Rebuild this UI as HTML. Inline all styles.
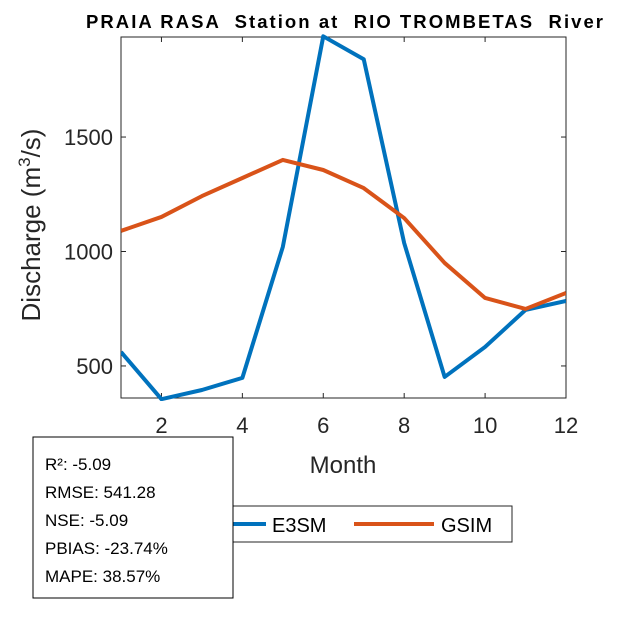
<!DOCTYPE html>
<html><head><meta charset="utf-8"><style>
body{margin:0;background:#fff;font-family:"Liberation Sans",Arial,sans-serif}
</style></head><body>
<svg width="625" height="625" viewBox="0 0 625 625" xmlns="http://www.w3.org/2000/svg">
<rect width="625" height="625" fill="#fff"/>
<text x="86" y="28" font-size="18.5" font-weight="bold" textLength="517" lengthAdjust="spacing" style="white-space:pre">PRAIA RASA  Station at  RIO TROMBETAS  River</text>
<g id="plot"></g>
<text x="343" y="473" text-anchor="middle" font-size="24" fill="#262626">Month</text>
<text transform="translate(40,225) rotate(-90)" text-anchor="middle" font-size="26" fill="#262626">Discharge (m<tspan font-size="17" dy="-10">3</tspan><tspan dy="10">/s)</tspan></text>
<g>
<rect x="232" y="506" width="280" height="36" fill="#fff" stroke="#262626" stroke-width="1"/>
<line x1="226" y1="524" x2="266" y2="524" stroke="#0072BD" stroke-width="4"/>
<text x="272" y="532" font-size="20" fill="#000">E3SM</text>
<line x1="354" y1="524" x2="434" y2="524" stroke="#D95319" stroke-width="4"/>
<text x="441" y="532" font-size="20" fill="#000">GSIM</text>
</g>
<g>
<rect x="33" y="437" width="200" height="161" fill="#fff" stroke="#000" stroke-width="1"/>
<text x="45" y="470" font-size="17">R²: -5.09</text>
<text x="45" y="498" font-size="17">RMSE: 541.28</text>
<text x="45" y="526" font-size="17">NSE: -5.09</text>
<text x="45" y="554" font-size="17">PBIAS: -23.74%</text>
<text x="45" y="582" font-size="17">MAPE: 38.57%</text>
</g>
</svg>
<script>
const months=[1,2,3,4,5,6,7,8,9,10,11,12];
const e3sm=[561,355,395,448,1020,1940,1840,1037,452,583,745,784];
const gsim=[1090,1151,1242,1321,1400,1356,1277,1146,950,797,749,819];
const xTicks=[2,4,6,8,10,12];
const yTicks=[500,1000,1500];
const L=121,R=566,T=37,B=398,xMin=1,xMax=12,yMin=360,yMax=1937;
const sx=v=>L+(v-xMin)/(xMax-xMin)*(R-L);
const sy=v=>B-(v-yMin)/(yMax-yMin)*(B-T);
const NS="http://www.w3.org/2000/svg";
const g=document.getElementById('plot');
function mk(t,a){const e=document.createElementNS(NS,t);for(const k in a)e.setAttribute(k,a[k]);g.appendChild(e);return e;}
const box=mk('rect',{x:L,y:T,width:R-L,height:B-T,fill:'#fff',stroke:'#262626','stroke-width':1});


xTicks.forEach(v=>{const x=sx(v);
mk('line',{x1:x,y1:B,x2:x,y2:B-5,stroke:'#262626'});mk('line',{x1:x,y1:T,x2:x,y2:T+5,stroke:'#262626'});
const t=mk('text',{x:x,y:B+35,'text-anchor':'middle','font-size':22,fill:'#262626'});t.textContent=v;

});
yTicks.forEach(v=>{const y=sy(v);
mk('line',{x1:L,y1:y,x2:L+5,y2:y,stroke:'#262626'});mk('line',{x1:R,y1:y,x2:R-5,y2:y,stroke:'#262626'});
const t=mk('text',{x:L-8,y:y+8,'text-anchor':'end','font-size':22,fill:'#262626'});t.textContent=v;

});
const cp=mk('clipPath',{id:'cp'});const cr=document.createElementNS(NS,'rect');cr.setAttribute('x',L);cr.setAttribute('y',T-3);cr.setAttribute('width',R-L);cr.setAttribute('height',B-T+6);cp.appendChild(cr);
function line(d,c,n){const p=mk('polyline',{points:months.map((m,i)=>sx(m)+','+sy(d[i])).join(' '),fill:'none',stroke:c,'stroke-width':4,'stroke-linejoin':'round','clip-path':'url(#cp)'});

}
line(e3sm,'#0072BD','e3sm-line');
line(gsim,'#D95319','gsim-line');
</script>
</body></html>
